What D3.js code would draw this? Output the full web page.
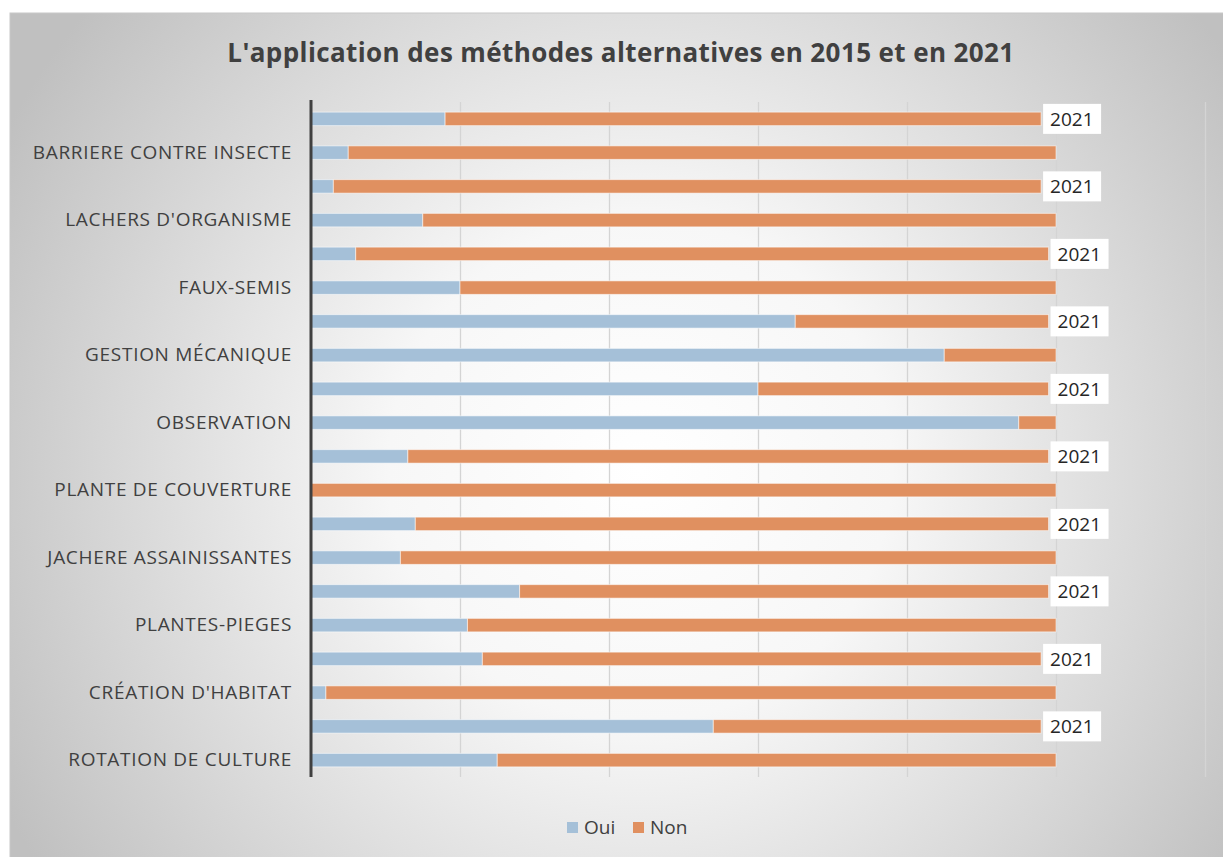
<!DOCTYPE html>
<html>
<head>
<meta charset="utf-8">
<script src="https://cdn.jsdelivr.net/npm/d3@7"></script>
<style>
  body { margin: 0; background: #fff; }
  svg { display: block; font-family: "Open Sans", "Lato", sans-serif; }
</style>
</head>
<body>
<svg width="1223" height="857"></svg>
<script>
// categories, top to bottom (each one has a 2021 row then a 2015 row)
const categories = [
  'BARRIERE CONTRE INSECTE',
  "LACHERS D'ORGANISME",
  'FAUX-SEMIS',
  'GESTION MÉCANIQUE',
  'OBSERVATION',
  'PLANTE DE COUVERTURE',
  'JACHERE ASSAINISSANTES',
  'PLANTES-PIEGES',
  "CRÉATION D'HABITAT",
  'ROTATION DE CULTURE'
]
const years = ['2021', '2015']
// percentages
const oui2021 = [18, 3, 6, 65, 60, 13, 14, 28, 23, 54]
const non2021 = [80, 95, 93, 34, 39, 86, 85, 71, 75, 44]
const oui2015 = [5, 15, 20, 85, 95, 0, 12, 21, 2, 25]
const non2015 = [95, 85, 80, 15, 5, 100, 88, 79, 98, 75]
const xTicks = [0, 20, 40, 60, 80, 100, 120]
const seriesNames = ['Oui', 'Non']
const colors = ['#a5c0d8', '#e09060']

// one row per category and year
const rows = []
categories.forEach(function(c, i) {
  rows.push({ key: c + '|2021', cat: c, year: years[0], Oui: oui2021[i], Non: non2021[i] })
  rows.push({ key: c + '|2015', cat: c, year: years[1], Oui: oui2015[i], Non: non2015[i] })
})

const svg = d3.select('svg')
const defs = svg.append('defs')

// background: gray frame with a light centre
const bg = defs.append('radialGradient')
  .attr('id', 'bg')
  .attr('gradientUnits', 'userSpaceOnUse')
  .attr('cx', 640).attr('cy', 470).attr('r', 720)
bg.append('stop').attr('offset', '0').attr('stop-color', '#ffffff')
bg.append('stop').attr('offset', '0.35').attr('stop-color', '#f7f7f7')
bg.append('stop').attr('offset', '1').attr('stop-color', '#c0c0c0')

const gridGrad = defs.append('linearGradient')
  .attr('id', 'gridGrad')
  .attr('gradientUnits', 'userSpaceOnUse')
  .attr('x1', 0).attr('x2', 0).attr('y1', 102).attr('y2', 777)
gridGrad.append('stop').attr('offset', '0').attr('stop-color', '#d4d4d4')
gridGrad.append('stop').attr('offset', '1').attr('stop-color', '#8c8c8c')

svg.append('rect')
  .attr('x', 10).attr('y', 13)
  .attr('width', 1223).attr('height', 857)
  .attr('fill', 'url(#bg)')
  .attr('stroke', '#c8c8c8')

// title
svg.append('text')
  .attr('x', 621).attr('y', 62)
  .attr('text-anchor', 'middle')
  .attr('font-size', 26)
  .attr('font-weight', 'bold')
  .attr('letter-spacing', 0.4)
  .attr('fill', '#404040')
  .text("L'application des méthodes alternatives en 2015 et en 2021")

const xScale = d3.scaleLinear().domain([0, 120]).range([311, 1205])
const yScale = d3.scaleBand()
  .domain(rows.map(d => d.key))
  .range([102, 777])
  .paddingInner(0.6)
  .paddingOuter(0.3)

// vertical grid
const grid = svg.append('g')
  .attr('transform', 'translate(0,777)')
  .call(d3.axisBottom(xScale).tickValues(xTicks.slice(1)).tickSize(-675).tickFormat(''))
grid.select('.domain').remove()
grid.selectAll('.tick line').attr('stroke', 'url(#gridGrad)').attr('stroke-width', 1.3)

// stacked bars
const stacked = d3.stack().keys(seriesNames)(rows)
svg.append('g')
  .selectAll('g')
  .data(stacked)
  .enter()
  .append('g')
  .attr('fill', (d, i) => colors[i])
  .selectAll('rect')
  .data(d => d.filter(s => s[1] > s[0]))
  .enter()
  .append('rect')
  .attr('x', s => xScale(s[0]))
  .attr('y', s => yScale(s.data.key))
  .attr('width', s => xScale(s[1]) - xScale(s[0]))
  .attr('height', yScale.bandwidth())
  .attr('stroke', 'rgba(255,255,255,0.55)')
  .attr('stroke-width', 1)

// y axis with category names on the 2015 rows
const yAxis = svg.append('g')
  .attr('transform', 'translate(311,0)')
  .call(d3.axisLeft(yScale).tickSize(0).tickPadding(19)
    .tickFormat(k => k.endsWith('|2015') ? k.split('|')[0] : ''))
yAxis.select('.domain')
  .attr('stroke', '#404040')
  .attr('stroke-width', 3)
  .attr('d', 'M0,100V777')
yAxis.selectAll('.tick text')
  .attr('font-size', 19)
  .attr('letter-spacing', 0.7)
  .attr('font-family', '"Open Sans", sans-serif')
  .attr('fill', '#404040')

// "2021" data labels at the end of the 2021 bars
const lab = svg.append('g')
  .selectAll('g')
  .data(rows.filter(d => d.year === '2021'))
  .enter()
  .append('g')
  .attr('transform', d => 'translate(' + (xScale(d.Oui + d.Non) + 2) + ',' + (yScale(d.key) + yScale.bandwidth() / 2) + ')')
lab.append('rect')
  .attr('x', 0).attr('y', -15)
  .attr('width', 58).attr('height', 30)
  .attr('fill', '#ffffff')
lab.append('text')
  .attr('x', 7).attr('y', 7)
  .attr('font-size', 19)
  .attr('fill', '#262626')
  .text(d => d.year)

// legend
const legend = svg.append('g')
  .selectAll('g')
  .data(seriesNames)
  .enter()
  .append('g')
  .attr('transform', (d, i) => 'translate(' + (567 + i * 66) + ',822)')
legend.append('rect')
  .attr('width', 11).attr('height', 11)
  .attr('fill', (d, i) => colors[i])
legend.append('text')
  .attr('x', 17).attr('y', 12)
  .attr('font-size', 19)
  .attr('fill', '#404040')
  .text(d => d)
</script>
</body>
</html>
